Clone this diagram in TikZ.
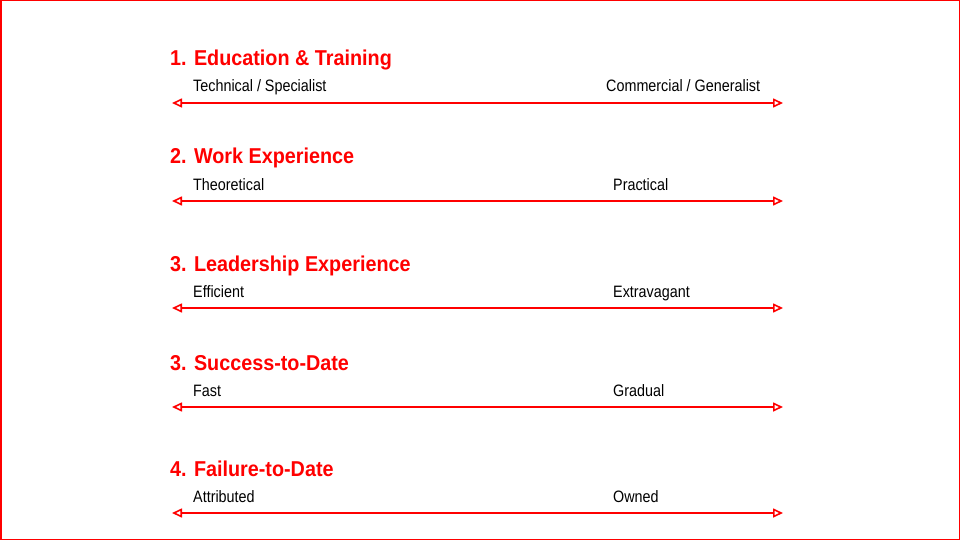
\documentclass[tikz,border=0pt]{standalone}
\usepackage{fontspec}
\setmainfont{Liberation Sans}
\newfontfamily\titlefont{Liberation Sans}[FakeStretch=0.92]
\newfontfamily\lblfont{Liberation Sans}[FakeStretch=0.87]
\usetikzlibrary{arrows.meta}
\definecolor{myred}{RGB}{255,0,0}
\tikzset{
  title/.style={anchor=base west, text=myred, font=\titlefont\fontsize{21.5}{24}\selectfont\bfseries, inner sep=0pt},
  lbl/.style={anchor=base west, text=black, font=\lblfont\fontsize{16.5}{19}\selectfont, inner sep=0pt},
  axis/.style={draw=myred, line width=1.6pt, {Triangle[open,length=10pt,width=9pt,fill=white]}-{Triangle[open,length=10pt,width=9pt,fill=white]}},
}
\begin{document}
\begin{tikzpicture}[x=1pt,y=-1pt]
\useasboundingbox (0,0) rectangle (960,540);
\draw[myred, line width=1.5pt] (0.75,0.75) rectangle (959.25,539.25);
% rows
\foreach \i/\ay/\t/\l/\r/\rx in {
  1/103/{1. Education \& Training}/{Technical / Specialist}/{Commercial / Generalist}/606,
  2/201/{2. Work Experience}/{Theoretical}/{Practical}/613,
  3/308/{3. Leadership Experience}/{Efficient}/{Extravagant}/613,
  4/407/{3. Success-to-Date}/{Fast}/{Gradual}/613,
  5/513/{4. Failure-to-Date}/{Attributed}/{Owned}/613} {
  \node[title] (t\i) at (170,\ay-37) {\t};
  \node[lbl] (l\i) at (193,\ay-11) {\l};
  \node[lbl] (r\i) at (\rx,\ay-11) {\r};
  \coordinate (a\i) at (172,\ay);
  \coordinate (b\i) at (783,\ay);
  \draw[axis] (a\i) -- (b\i);
}
\end{tikzpicture}
\end{document}
